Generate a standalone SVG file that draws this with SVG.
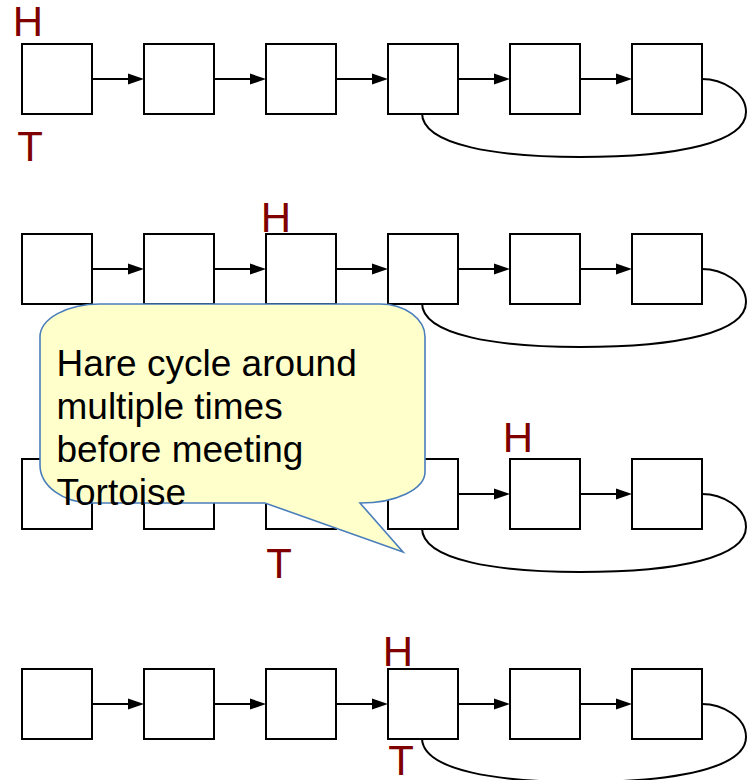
<svg xmlns="http://www.w3.org/2000/svg" width="752" height="780" viewBox="0 0 752 780">
<style>
.box{fill:#ffffff;stroke:#000000;stroke-width:2}
.arr{fill:none;stroke:#000000;stroke-width:2;marker-end:url(#ah)}
.loop{fill:none;stroke:#000000;stroke-width:2}
.lbl{font-family:"Liberation Sans",Arial,sans-serif;font-size:42px;fill:#800000}
.call{fill:#ffffcc;stroke:#4a7ebb;stroke-width:1.6}
.ct{font-family:"Liberation Sans",Arial,sans-serif;font-size:37px;fill:#000000}
</style>
<defs>
<marker id="ah" markerUnits="userSpaceOnUse" markerWidth="16" markerHeight="12" refX="8" refY="6" orient="auto">
<path d="M0,0.5 L16,6 L0,11.5 Z" fill="#000000"/>
</marker>
<rect id="b" width="70" height="70" class="box"/>
</defs>

<g id="connectors">
<line class="arr" x1="92" y1="79" x2="136" y2="79"/>
<line class="arr" x1="214" y1="79" x2="258" y2="79"/>
<line class="arr" x1="336" y1="79" x2="380" y2="79"/>
<line class="arr" x1="458" y1="79" x2="502" y2="79"/>
<line class="arr" x1="580" y1="79" x2="624" y2="79"/>
<path class="loop" d="M422,113 C422,146 500,157 580,157 C680,157 746,142 746,112 C746,92 722,79 702,79"/>

<line class="arr" x1="92" y1="269" x2="136" y2="269"/>
<line class="arr" x1="214" y1="269" x2="258" y2="269"/>
<line class="arr" x1="336" y1="269" x2="380" y2="269"/>
<line class="arr" x1="458" y1="269" x2="502" y2="269"/>
<line class="arr" x1="580" y1="269" x2="624" y2="269"/>
<path class="loop" d="M422,303 C422,336 500,347 580,347 C680,347 746,332 746,302 C746,282 722,269 702,269"/>

<line class="arr" x1="92" y1="494" x2="136" y2="494"/>
<line class="arr" x1="214" y1="494" x2="258" y2="494"/>
<line class="arr" x1="336" y1="494" x2="380" y2="494"/>
<line class="arr" x1="458" y1="494" x2="502" y2="494"/>
<line class="arr" x1="580" y1="494" x2="624" y2="494"/>
<path class="loop" d="M422,528 C422,561 500,572 580,572 C680,572 746,557 746,527 C746,507 722,494 702,494"/>

<line class="arr" x1="92" y1="704" x2="136" y2="704"/>
<line class="arr" x1="214" y1="704" x2="258" y2="704"/>
<line class="arr" x1="336" y1="704" x2="380" y2="704"/>
<line class="arr" x1="458" y1="704" x2="502" y2="704"/>
<line class="arr" x1="580" y1="704" x2="624" y2="704"/>
<path class="loop" d="M422,738 C422,771 500,782 580,782 C680,782 746,767 746,737 C746,717 722,704 702,704"/>
</g>

<g id="n1-1"><use href="#b" x="22" y="44"/></g>
<g id="n1-2"><use href="#b" x="144" y="44"/></g>
<g id="n1-3"><use href="#b" x="266" y="44"/></g>
<g id="n1-4"><use href="#b" x="388" y="44"/></g>
<g id="n1-5"><use href="#b" x="510" y="44"/></g>
<g id="n1-6"><use href="#b" x="632" y="44"/></g>

<g id="n2-1"><use href="#b" x="22" y="234"/></g>
<g id="n2-2"><use href="#b" x="144" y="234"/></g>
<g id="n2-3"><use href="#b" x="266" y="234"/></g>
<g id="n2-4"><use href="#b" x="388" y="234"/></g>
<g id="n2-5"><use href="#b" x="510" y="234"/></g>
<g id="n2-6"><use href="#b" x="632" y="234"/></g>

<g id="n3-1"><use href="#b" x="22" y="459"/></g>
<g id="n3-2"><use href="#b" x="144" y="459"/></g>
<g id="n3-3"><use href="#b" x="266" y="459"/></g>
<g id="n3-4"><use href="#b" x="388" y="459"/></g>
<g id="n3-5"><use href="#b" x="510" y="459"/></g>
<g id="n3-6"><use href="#b" x="632" y="459"/></g>

<g id="n4-1"><use href="#b" x="22" y="669"/></g>
<g id="n4-2"><use href="#b" x="144" y="669"/></g>
<g id="n4-3"><use href="#b" x="266" y="669"/></g>
<g id="n4-4"><use href="#b" x="388" y="669"/></g>
<g id="n4-5"><use href="#b" x="510" y="669"/></g>
<g id="n4-6"><use href="#b" x="632" y="669"/></g>

<g id="labels">
<text class="lbl" x="12.7" y="36">H</text>
<text class="lbl" x="17.3" y="161">T</text>
<text class="lbl" x="260.7" y="231.5">H</text>
<text class="lbl" x="502.7" y="451.5">H</text>
<text class="lbl" x="266.3" y="578">T</text>
<text class="lbl" x="382.7" y="665.5">H</text>
<text class="lbl" x="388.3" y="775">T</text>
</g>

<g id="callout">
<path class="call" d="M40,337 A60,33 0 0 1 100,304 L380,304 A45,33 0 0 1 425,337 L425,472 A65,31 0 0 1 360,503 L403,552 L265,503 L92,503 A52,38 0 0 1 40,465 Z"/>
<text class="ct" x="56.5" y="376">Hare cycle around</text>
<text class="ct" x="56.5" y="419">multiple times</text>
<text class="ct" x="56.5" y="462">before meeting</text>
<text class="ct" x="56.5" y="505">Tortoise</text>
</g>
</svg>
